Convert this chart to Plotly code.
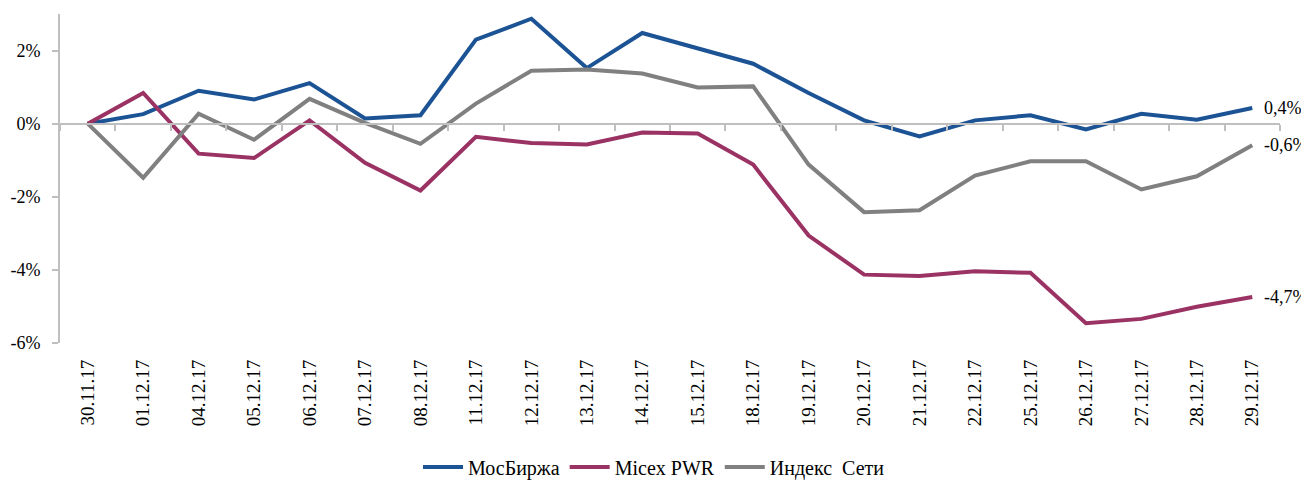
import plotly.graph_objects as go

dates = ["30.11.17", "01.12.17", "04.12.17", "05.12.17", "06.12.17", "07.12.17",
         "08.12.17", "11.12.17", "12.12.17", "13.12.17", "14.12.17", "15.12.17",
         "18.12.17", "19.12.17", "20.12.17", "21.12.17", "22.12.17", "25.12.17",
         "26.12.17", "27.12.17", "28.12.17", "29.12.17"]

mosbirzha = [0.0, 0.26, 0.90, 0.66, 1.11, 0.14, 0.23, 2.30, 2.87, 1.52, 2.48,
             2.07, 1.64, 0.84, 0.09, -0.35, 0.09, 0.23, -0.16, 0.27, 0.11, 0.43]
micex_pwr = [0.0, 0.84, -0.82, -0.94, 0.09, -1.07, -1.83, -0.36, -0.53, -0.57,
             -0.24, -0.27, -1.12, -3.06, -4.13, -4.17, -4.04, -4.08, -5.46,
             -5.34, -5.01, -4.74]
index_seti = [0.0, -1.48, 0.27, -0.44, 0.68, 0.02, -0.55, 0.55, 1.45, 1.48, 1.37,
              0.99, 1.02, -1.12, -2.42, -2.37, -1.42, -1.03, -1.03, -1.80, -1.44,
              -0.59]

series_names = ["МосБиржа", "Micex PWR", "Индекс  Сети"]
series_values = [mosbirzha, micex_pwr, index_seti]
series_colors = ["#1B5394", "#9A3263", "#808080"]
end_labels = ["0,4%", "-4,7%", "-0,6%"]

y_tickvals = [-6, -4, -2, 0, 2]
y_ticktext = ["-6%", "-4%", "-2%", "0%", "2%"]
y_range = [-6, 3]

FONT = "Times New Roman"
AXIS_GRAY = "#BFBFBF"

# page body has an 8px default margin; the figure is sized to fit inside
W, H = 1301, 472

fig = go.Figure()
for name, vals, col in zip(series_names, series_values, series_colors):
    fig.add_trace(go.Scatter(x=dates, y=vals, mode="lines", name=name,
                             line=dict(color=col, width=4),
                             xaxis="x", yaxis="y"))

# helper trace for the zero-level category axis (ticks at boundaries)
fig.add_trace(go.Scatter(x=dates, y=[None] * len(dates), mode="lines",
                         showlegend=False, hoverinfo="skip",
                         xaxis="x2", yaxis="y"))

for name, vals, lab in zip(series_names, series_values, end_labels):
    fig.add_annotation(x=dates[-1], y=vals[-1], text=lab, showarrow=False,
                       xanchor="left", yanchor="middle", xshift=10,
                       font=dict(family=FONT, size=18, color="#000000"))

zero_pos = (0 - y_range[0]) / (y_range[1] - y_range[0])

fig.update_layout(
    template="none",
    width=W, height=H,
    margin=dict(l=52, r=29, t=6, b=137, autoexpand=False),
    paper_bgcolor="white", plot_bgcolor="white",
    font=dict(family=FONT, size=18, color="#000000"),
    showlegend=True,
    legend=dict(orientation="h", xref="container", yref="container",
                x=646 / W, xanchor="center", y=1 - 459 / H, yanchor="middle",
                font=dict(family=FONT, size=20, color="#000000"),
                itemwidth=40, tracegroupgap=0),
    xaxis=dict(type="category", categoryorder="array", categoryarray=dates,
               range=[-0.5, len(dates) - 0.5], automargin=False,
               showline=False, showgrid=False, zeroline=False,
               ticks="", tickangle=-90, ticklabelstandoff=12,
               tickfont=dict(family=FONT, size=19, color="#000000")),
    xaxis2=dict(type="category", categoryorder="array", categoryarray=dates,
                overlaying="x", matches="x", anchor="free", position=zero_pos,
                side="bottom", showline=True, linecolor=AXIS_GRAY, linewidth=2,
                showgrid=False, zeroline=False, showticklabels=False,
                automargin=False,
                ticks="outside", tickson="boundaries", ticklen=6,
                tickcolor=AXIS_GRAY, tickwidth=2),
    yaxis=dict(range=y_range, tickvals=y_tickvals, ticktext=y_ticktext,
               showgrid=False, zeroline=False, showline=True, automargin=False,
               linecolor=AXIS_GRAY, linewidth=2, ticks="outside", ticklen=6,
               tickcolor=AXIS_GRAY, tickwidth=2, ticklabelstandoff=8,
               tickfont=dict(family=FONT, size=18, color="#000000")),
)

fig.write_html("out.html")
